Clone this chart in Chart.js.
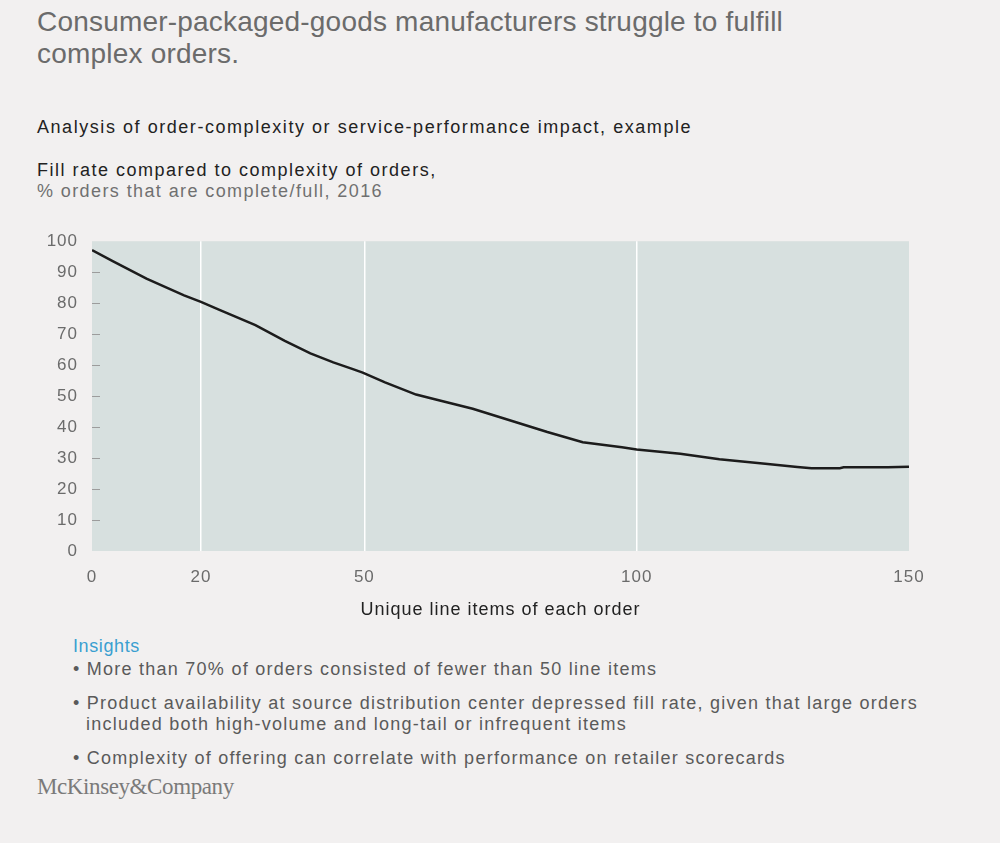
<!DOCTYPE html>
<html>
<head>
<meta charset="utf-8">
<script src="https://cdn.jsdelivr.net/npm/chart.js@4/dist/chart.umd.min.js"></script>
<style>
  body { margin: 0; background: #f2f0f0; font-family: "Liberation Sans", Arial, sans-serif; }
  .page { position: relative; width: 1000px; height: 843px; overflow: hidden; }
  .title { position: absolute; left: 37px; top: 6px; width: 960px; font-size: 28px; line-height: 32px; letter-spacing: 0.2px; color: #6b6b6b; }
  .sub { position: absolute; left: 37px; top: 117px; font-size: 18px; letter-spacing: 1.55px; color: #222; }
  .chart-title { position: absolute; left: 37px; top: 160px; font-size: 18px; line-height: 21px; letter-spacing: 1.5px; color: #222; }
  .chart-title span { color: #707070; letter-spacing: 1.4px; }
  .chart-box { position: absolute; left: 0; top: 225px; width: 1000px; height: 400px; }
  .insights { position: absolute; left: 73px; top: 635px; width: 860px; font-size: 18px; letter-spacing: 1.25px; color: #5a5a5a; }
  .insights h4 { margin: 0 0 2px 0; font-weight: normal; color: #3a9fd0; font-size: 18px; line-height: 22px; letter-spacing: 0.6px; }
  .insights p { margin: 0 0 13px 0; line-height: 21px; padding-left: 13px; text-indent: -13px; }
  .brand { position: absolute; left: 37px; top: 774px; font-family: "Liberation Serif", "DejaVu Serif", serif; font-size: 23px; color: #7a7a7a; letter-spacing: -0.4px; }
</style>
</head>
<body>
<div class="page">
  <div class="title">Consumer-packaged-goods manufacturers struggle to fulfill<br>complex orders.</div>
  <div class="sub">Analysis of order-complexity or service-performance impact, example</div>
  <div class="chart-title">Fill rate compared to complexity of orders,<br><span>% orders that are complete/full, 2016</span></div>
  <div class="chart-box"><canvas id="chart"></canvas></div>
  <div class="insights">
    <h4>Insights</h4>
    <p>• More than 70% of orders consisted of fewer than 50 line items</p>
    <p>• Product availability at source distribution center depressed fill rate, given that large orders included both high-volume and long-tail or infrequent items</p>
    <p>• Complexity of offering can correlate with performance on retailer scorecards</p>
  </div>
  <div class="brand">McKinsey&amp;Company</div>
</div>
<script>
// unique line items per order
var lineItems = [0, 3.8, 10, 16.9, 20, 23.4, 30, 35.4, 40.1, 44.3, 47.9, 49.7, 53.8, 59.5, 63.3, 69.9, 75.8, 83.6, 90.1, 97.3, 100, 108, 115.2, 123.6, 129.5, 132.1, 137.3, 138, 146.1, 150];
// fill rate, % orders complete/full
var fillRate = [97.1, 93.6, 87.9, 82.5, 80.4, 77.8, 72.9, 67.8, 63.8, 60.9, 58.7, 57.6, 54.4, 50.5, 48.8, 45.9, 42.7, 38.4, 35.1, 33.5, 32.8, 31.4, 29.6, 28.2, 27.1, 26.7, 26.7, 27.0, 27.0, 27.2];

var xTicks = [0, 20, 50, 100, 150];
var xGridAt = [20, 50, 100];
var yTicks = [0, 10, 20, 30, 40, 50, 60, 70, 80, 90, 100];

var points = lineItems.map(function (x, i) { return { x: x, y: fillRate[i] }; });

// the reference type is loosely tracked, canvas text too
function spacing(chart) {
  if ('letterSpacing' in chart.ctx) chart.ctx.letterSpacing = '1px';
}

// plot background + little inner tick dashes on the y axis
var plotBg = {
  id: 'plotBg',
  beforeUpdate: spacing,
  beforeLayout: spacing,
  beforeDraw: function (chart) {
    spacing(chart);
    var a = chart.chartArea, ctx = chart.ctx;
    ctx.save();
    ctx.fillStyle = '#d7e0df';
    ctx.fillRect(a.left, a.top, a.right - a.left, a.bottom - a.top);
    ctx.restore();
  },
  beforeDatasetsDraw: function (chart) {
    var a = chart.chartArea, ctx = chart.ctx, y = chart.scales.y;
    ctx.save();
    ctx.strokeStyle = '#9c9c9c';
    ctx.lineWidth = 1;
    yTicks.forEach(function (v) {
      if (v === 0 || v === 100) return;
      var py = Math.round(y.getPixelForValue(v)) + 0.5;
      ctx.beginPath();
      ctx.moveTo(a.left, py);
      ctx.lineTo(a.left + 8, py);
      ctx.stroke();
    });
    ctx.restore();
  }
};

new Chart(document.getElementById('chart'), {
  type: 'line',
  data: {
    datasets: [{
      data: points,
      borderColor: '#1c1c1c',
      borderWidth: 2.5,
      pointRadius: 0,
      fill: false,
      tension: 0
    }]
  },
  options: {
    responsive: true,
    maintainAspectRatio: false,
    animation: false,
    layout: { padding: { left: 0, right: 91, top: 5, bottom: 0 } },
    plugins: { legend: { display: false }, tooltip: { enabled: false } },
    scales: {
      x: {
        type: 'linear',
        min: 0,
        max: 150,
        afterBuildTicks: function (scale) {
          scale.ticks = xTicks.map(function (v) { return { value: v }; });
        },
        afterFit: function (scale) { scale.height = 74; },
        border: { display: false },
        grid: {
          drawTicks: false,
          lineWidth: 1.5,
          color: function (c) { return xGridAt.indexOf(c.tick && c.tick.value) >= 0 ? '#ffffff' : 'rgba(0,0,0,0)'; }
        },
        ticks: { padding: 16, color: '#6b6b6b', font: { family: 'Liberation Sans', size: 17 }, maxRotation: 0 },
        title: { display: true, text: 'Unique line items of each order', color: '#222', font: { family: 'Liberation Sans', size: 18 }, padding: { top: 9 } }
      },
      y: {
        min: 0,
        max: 100,
        afterBuildTicks: function (scale) {
          scale.ticks = yTicks.map(function (v) { return { value: v }; });
        },
        afterFit: function (scale) { scale.width = 92; },
        border: { display: false },
        grid: { display: false },
        ticks: { padding: 6, color: '#6b6b6b', font: { family: 'Liberation Sans', size: 17 } }
      }
    }
  },
  plugins: [plotBg]
});
</script>
</body>
</html>
